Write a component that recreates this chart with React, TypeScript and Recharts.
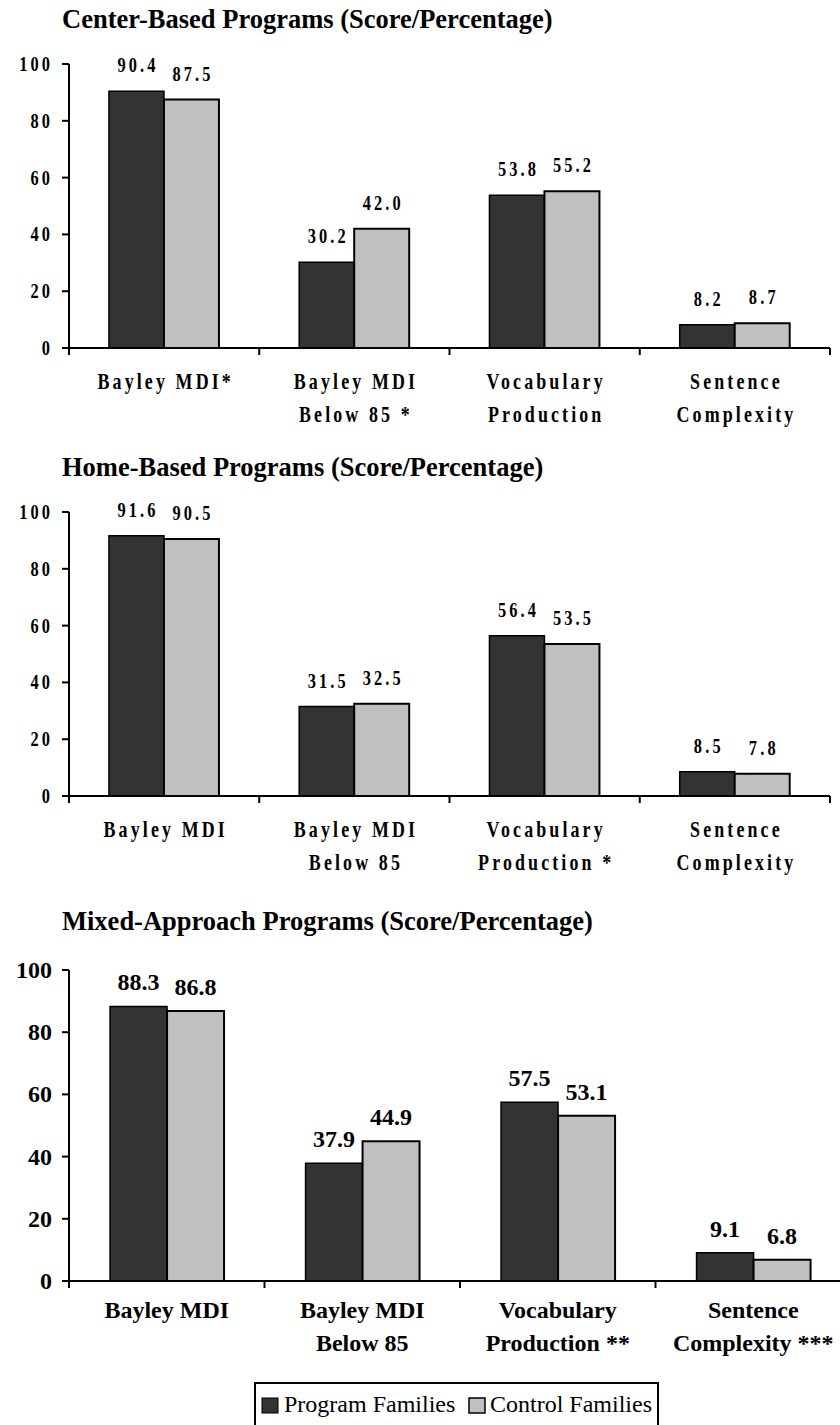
import { BarChart, Bar, XAxis, YAxis, LabelList } from 'recharts';

const SERIF = '"Liberation Serif", "Times New Roman", Times, serif';

// chart values
const centerCategories = ['Bayley MDI*', 'Bayley MDI\nBelow 85 *', 'Vocabulary\nProduction', 'Sentence\nComplexity'];
const centerProgram = [90.4, 30.2, 53.8, 8.2];
const centerControl = [87.5, 42.0, 55.2, 8.7];

const homeCategories = ['Bayley MDI', 'Bayley MDI\nBelow 85', 'Vocabulary\nProduction *', 'Sentence\nComplexity'];
const homeProgram = [91.6, 31.5, 56.4, 8.5];
const homeControl = [90.5, 32.5, 53.5, 7.8];

const mixedCategories = ['Bayley MDI', 'Bayley MDI\nBelow 85', 'Vocabulary\nProduction **', 'Sentence\nComplexity ***'];
const mixedProgram = [88.3, 37.9, 57.5, 9.1];
const mixedControl = [86.8, 44.9, 53.1, 6.8];

const yTicks = [0, 20, 40, 60, 80, 100];
const seriesNames = ['Program Families', 'Control Families'];
const panelTitles = [
  'Center-Based Programs (Score/Percentage)',
  'Home-Based Programs (Score/Percentage)',
  'Mixed-Approach Programs (Score/Percentage)',
];

const DARK = '#333333';
const LIGHT = '#c0c0c0';

type TextStyle = { size: number; catSize: number; spacing: number; scaleX: number };

// panels 1 and 2 use a narrow, letter-spaced face; panel 3 plain bold
const spaced: TextStyle = { size: 21, catSize: 23, spacing: 4, scaleX: 0.78 };
const plain: TextStyle = { size: 24, catSize: 24, spacing: 0, scaleX: 1 };

const BoldText = ({ x, y, text, size, anchor, ts }: any) => {
  // letter-spacing adds a trailing gap, nudge it back
  const shift = anchor === 'middle' ? (ts.spacing * ts.scaleX) / 2 : anchor === 'end' ? ts.spacing * ts.scaleX : 0;
  return (
    <text
      transform={`translate(${x + shift},${y}) scale(${ts.scaleX},1)`}
      textAnchor={anchor}
      fontFamily={SERIF}
      fontSize={size}
      fontWeight="bold"
      letterSpacing={ts.spacing}
      fill="#000"
    >
      {text}
    </text>
  );
};

interface PanelProps {
  categories: string[];
  program: number[];
  control: number[];
  top: number;
  plotHeight: number;
  chartWidth: number;
  rightMargin: number;
  ts: TextStyle;
  valueGap: number;
  lineOffsets: number[];
}

const Panel = ({ categories, program, control, top, plotHeight, chartWidth, rightMargin, ts, valueGap, lineOffsets }: PanelProps) => {
  const data = categories.map((name, i) => ({ name, program: program[i], control: control[i] }));
  const axisWidth = 69;
  const marginTop = 64;
  const axisHeight = 82;
  const band = (chartWidth - axisWidth - rightMargin) / categories.length;

  const renderYTick = (props: any) => {
    const { x, y, payload } = props;
    return <BoldText x={Number(x)} y={Number(y) + ts.size * 0.33} text={String(payload.value)} size={ts.size} anchor="end" ts={ts} />;
  };

  const renderXTick = (props: any) => {
    const { x, y, payload, index } = props;
    const cx = Number(x);
    const cy = Number(y);
    const lines = String(payload.value).split('\n');
    return (
      <g>
        <line x1={cx - band / 2} y1={cy} x2={cx - band / 2} y2={cy + 7} stroke="#000" strokeWidth={2} />
        {index === categories.length - 1 && (
          <line x1={cx + band / 2} y1={cy} x2={cx + band / 2} y2={cy + 7} stroke="#000" strokeWidth={2} />
        )}
        {lines.map((t, i) => (
          <BoldText key={i} x={cx} y={cy + lineOffsets[i]} text={t} size={ts.catSize} anchor="middle" ts={ts} />
        ))}
      </g>
    );
  };

  const renderValue = (props: any) => {
    const { x, y, width, value } = props;
    return (
      <BoldText
        x={Number(x) + Number(width) / 2}
        y={Number(y) - valueGap}
        text={Number(value).toFixed(1)}
        size={ts.size}
        anchor="middle"
        ts={ts}
      />
    );
  };

  return (
    <div style={{ position: 'absolute', left: 0, top }}>
      <BarChart
        width={chartWidth}
        height={marginTop + plotHeight + axisHeight}
        data={data}
        margin={{ top: marginTop, right: rightMargin, left: 0, bottom: 0 }}
        barGap={0}
        barCategoryGap="21%"
      >
        <XAxis
          dataKey="name"
          interval={0}
          height={axisHeight}
          tickLine={false}
          tickSize={0}
          tickMargin={0}
          axisLine={{ stroke: '#000', strokeWidth: 2 }}
          tick={renderXTick}
        />
        <YAxis
          width={axisWidth}
          domain={[0, 100]}
          ticks={yTicks}
          interval={0}
          tickSize={7}
          tickMargin={ts.spacing ? 12 : 10}
          tickLine={{ stroke: '#000', strokeWidth: 2 }}
          axisLine={{ stroke: '#000', strokeWidth: 2 }}
          tick={renderYTick}
        />
        <Bar dataKey="program" name={seriesNames[0]} fill={DARK} stroke="#000" strokeWidth={1.5} isAnimationActive={false}>
          <LabelList dataKey="program" content={renderValue} />
        </Bar>
        <Bar dataKey="control" name={seriesNames[1]} fill={LIGHT} stroke="#000" strokeWidth={2} isAnimationActive={false}>
          <LabelList dataKey="control" content={renderValue} />
        </Bar>
      </BarChart>
    </div>
  );
};

export default function App() {
  return (
    <div
      style={{
        position: 'absolute',
        left: 0,
        top: 0,
        width: 840,
        height: 1425,
        overflow: 'hidden',
        background: '#fff',
        fontFamily: SERIF,
      }}
    >
      <Panel
        categories={centerCategories}
        program={centerProgram}
        control={centerControl}
        top={0}
        plotHeight={284}
        chartWidth={840}
        rightMargin={10}
        ts={spaced}
        valueGap={19}
        lineOffsets={[41, 74]}
      />
      <Panel
        categories={homeCategories}
        program={homeProgram}
        control={homeControl}
        top={448}
        plotHeight={284}
        chartWidth={840}
        rightMargin={10}
        ts={spaced}
        valueGap={19}
        lineOffsets={[41, 74]}
      />
      <Panel
        categories={mixedCategories}
        program={mixedProgram}
        control={mixedControl}
        top={906}
        plotHeight={311}
        chartWidth={851}
        rightMargin={0}
        ts={plain}
        valueGap={16}
        lineOffsets={[37, 70]}
      />

      {/* titles and legend */}
      <svg width={840} height={1425} style={{ position: 'absolute', left: 0, top: 0, pointerEvents: 'none' }}>
        {panelTitles.map((t, i) => (
          <text key={t} x={62} y={[28, 476, 930][i]} fontFamily={SERIF} fontSize={26.5} fontWeight="bold" fill="#000">
            {t}
          </text>
        ))}
        <rect x={255} y={1383} width={403} height={80} fill="#fff" stroke="#000" strokeWidth={2} />
        <rect x={262} y={1398} width={16} height={15} fill={DARK} stroke="#000" strokeWidth={1} />
        <text x={284} y={1412} fontFamily={SERIF} fontSize={24} fill="#000">
          {seriesNames[0]}
        </text>
        <rect x={469} y={1398} width={16} height={15} fill={LIGHT} stroke="#000" strokeWidth={1.5} />
        <text x={490} y={1412} fontFamily={SERIF} fontSize={24} fill="#000">
          {seriesNames[1]}
        </text>
      </svg>
    </div>
  );
}
